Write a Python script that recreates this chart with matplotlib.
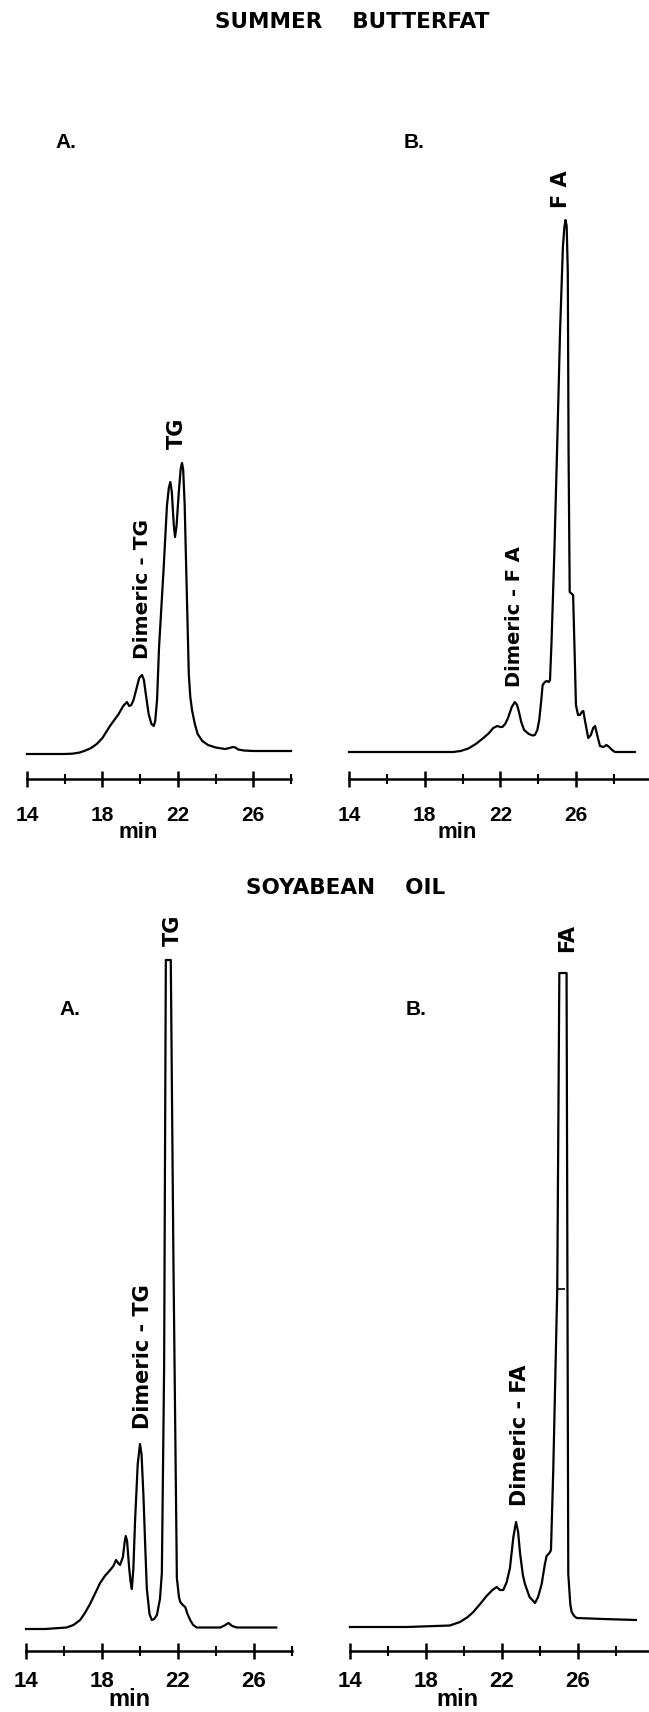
import numpy as np
import matplotlib
matplotlib.use('Agg')
from matplotlib import pyplot as plt
from matplotlib.ticker import MultipleLocator

plt.rcParams['font.family'] = ['Liberation Sans', 'DejaVu Sans']

# 读数: 时间(min) 与 信号高度(像素单位, 基线=0)
# 夏季黄油 A: TG
bf_tg_min = [14.0, 15.0, 16.0, 16.4, 16.8, 17.1, 17.4, 17.7, 18.0, 18.4, 18.86, 19.1,
             19.3, 19.42, 19.53, 19.65, 19.8, 19.95, 20.1, 20.2, 20.3, 20.45, 20.6,
             20.72, 20.8, 20.9, 21.0, 21.25, 21.42, 21.52, 21.6, 21.68, 21.78, 21.85,
             21.93, 22.05, 22.15, 22.22, 22.28, 22.36, 22.45, 22.58, 22.66, 22.75,
             22.9, 23.05, 23.3, 23.6, 24.0, 24.5, 24.75, 24.9, 25.05, 25.2, 25.5,
             26.0, 27.0, 28.0]
bf_tg_sig = [0, 0, 0, 0.3, 1.5, 3.5, 6, 10, 16, 28, 40, 48,
             52, 48, 49, 54, 65, 76, 79, 74, 60, 40, 30,
             28, 33, 55, 106, 187, 248, 266, 272, 262, 230, 217,
             228, 262, 285, 291, 285, 250, 180, 80, 57, 44,
             30, 20, 13, 9, 6.5, 5, 6, 7, 6.5, 4.5, 3.5,
             3, 3, 3]

# 夏季黄油 B: FA
bf_fa_min = [14.0, 17.0, 19.5, 19.9, 20.3, 20.7, 21.1, 21.4, 21.62, 21.83, 22.0, 22.1,
             22.25, 22.4, 22.6, 22.76, 22.88, 22.98, 23.1, 23.25, 23.5, 23.7, 23.82,
             23.95, 24.05, 24.15, 24.23, 24.35, 24.44, 24.55, 24.62, 24.7, 24.85,
             25.0, 25.15, 25.3, 25.38, 25.44, 25.5, 25.56, 25.6, 25.66, 25.84, 25.92,
             25.99, 26.1, 26.2, 26.3, 26.38, 26.48, 26.64, 26.78, 26.9, 27.0, 27.1,
             27.26, 27.45, 27.6, 27.75, 27.9, 28.05, 29.1]
bf_fa_sig = [0, 0, 0, 1, 3.5, 8, 14, 19, 24, 26, 25, 25,
             28, 34, 45, 50, 47, 40, 30, 22, 18, 16.5, 17,
             22, 32, 50, 67, 70, 71, 70, 72, 110, 200,
             307, 420, 505, 525, 532, 526, 480, 300, 160, 157, 100,
             47, 37, 37, 40, 41, 30, 14, 17, 24, 26, 18,
             6, 5, 7, 5, 2, 0, 0]

# 大豆油 A: TG (峰顶超出量程)
soy_tg_min = [14.0, 15.0, 16.14, 16.5, 16.85, 17.1, 17.37, 17.65, 17.9, 18.15, 18.43,
              18.6, 18.74, 18.85, 18.95, 19.1, 19.2, 19.25, 19.32, 19.43, 19.5, 19.57,
              19.65, 19.74, 19.88, 20.0, 20.08, 20.18, 20.28, 20.36, 20.5, 20.62,
              20.75, 20.89, 21.05, 21.15, 21.27, 21.36, 21.62, 21.76, 21.94, 22.05,
              22.12, 22.25, 22.38, 22.5, 22.64, 22.8, 22.99, 24.22, 24.45, 24.66,
              24.85, 25.1, 27.17]
soy_tg_sig = [0, 0, 1.5, 4, 9, 16, 25, 36, 46, 53, 59,
              63, 69, 66, 64, 72, 88, 93, 88, 61, 48, 40,
              60, 108, 165, 185, 175, 134, 80, 40, 15, 9,
              10, 14, 30, 56, 263, 669, 669, 367, 51, 32,
              27, 24, 22, 15, 9, 4, 1.5, 1.5, 3.5, 6,
              3, 1.5, 1.5]

# 大豆油 B: FA (峰顶超出量程)
soy_fa_min = [14.0, 17.0, 19.26, 19.79, 20.2, 20.49, 20.85, 21.19, 21.5, 21.72, 21.9,
              22.07, 22.25, 22.42, 22.6, 22.74, 22.85, 22.95, 23.1, 23.21, 23.45,
              23.74, 23.9, 24.09, 24.25, 24.35, 24.5, 24.58, 24.7, 24.91, 25.02,
              25.4, 25.49, 25.6, 25.67, 25.8, 25.93, 27.33, 29.05]
soy_fa_sig = [0, 0, 1.5, 5, 10, 15, 23, 31, 37, 40, 37,
              37, 45, 59, 90, 105, 95, 74, 52, 43, 30,
              24, 30, 43, 62, 71, 74, 77, 157, 338, 654,
              654, 53, 22, 15, 11, 9, 8, 7]

major_ticks = [14, 18, 22, 26]

W, H = 649, 1712
fig = plt.figure(figsize=(W / 100, H / 100), dpi=100)


def panel(left, axis_y, width, xmax, base, pad, fs):
    ax = fig.add_axes([left / W, (H - axis_y) / H, width / W, 700 / H])
    ax.set_xlim(14, xmax)
    ax.set_ylim(-base, 700 - base)
    for s in ['left', 'right', 'top']:
        ax.spines[s].set_visible(False)
    ax.spines['bottom'].set_linewidth(1.8)
    ax.set_yticks([])
    ax.set_xticks(major_ticks)
    ax.xaxis.set_minor_locator(MultipleLocator(2))
    ax.tick_params(axis='x', which='major', direction='inout', length=11, width=1.8,
                   pad=pad, labelsize=fs)
    ax.tick_params(axis='x', which='minor', direction='inout', length=7, width=1.5)
    for lab in ax.get_xticklabels():
        lab.set_fontweight('bold')
    ax.patch.set_alpha(0)
    return ax


lab_kw = dict(rotation=90, ha='center', va='center', family='DejaVu Sans')

# 上: 夏季黄油
ax1 = panel(27, 779, 264, 28.0, 25, 14, 15)
ax1.plot(bf_tg_min, bf_tg_sig, color='black', lw=1.6, clip_on=False)
ax1.text(20.1, 165, 'Dimeric - TG', fontsize=14.5, fontweight='bold', **lab_kw)
ax1.text(21.95, 321, 'TG', fontsize=15, fontweight='bold', **lab_kw)

ax2 = panel(349, 779, 300, 29.85, 27, 14, 15)
ax2.plot(bf_fa_min, bf_fa_sig, color='black', lw=1.6, clip_on=False)
ax2.text(22.77, 135, 'Dimeric - F A', fontsize=14, fontweight='bold', **lab_kw)
ax2.text(25.2, 563, 'F A', fontsize=15, fontweight='bold', **lab_kw)

# 下: 大豆油
ax3 = panel(26, 1651, 266, 28.0, 22, 9, 16)
ax3.plot(soy_tg_min, soy_tg_sig, color='black', lw=1.6, clip_on=False)
ax3.text(20.16, 272, 'Dimeric - TG', fontsize=15, fontweight='bold', **lab_kw)
ax3.text(21.74, 699, 'TG', fontsize=15, fontweight='bold', **lab_kw)

ax4 = panel(350, 1651, 299, 29.74, 24, 9, 16)
ax4.plot(soy_fa_min, soy_fa_sig, color='black', lw=1.6, clip_on=False)
ax4.plot([25.1], [338], marker='_', markersize=6, mew=1.2, color='black')
ax4.text(22.95, 192, 'Dimeric - FA', fontsize=15, fontweight='bold', **lab_kw)
ax4.text(25.42, 689, 'FA', fontsize=15, fontweight='bold', **lab_kw)


def ftext(x, y, s, **kw):
    fig.text(x / W, 1 - y / H, s, ha='center', va='center', **kw)


ftext(352, 22, 'SUMMER    BUTTERFAT', fontsize=15.5, fontweight='bold', family='DejaVu Sans')
ftext(66, 142, 'A.', fontsize=15, fontweight='bold')
ftext(414, 142, 'B.', fontsize=15, fontweight='bold')
ftext(138, 833, 'min', fontsize=16, fontweight='bold')
ftext(457, 833, 'min', fontsize=16, fontweight='bold')

ftext(346, 888, 'SOYABEAN    OIL', fontsize=15.5, fontweight='bold', family='DejaVu Sans')
ftext(70, 1009, 'A.', fontsize=15, fontweight='bold')
ftext(416, 1009, 'B.', fontsize=15, fontweight='bold')
ftext(129, 1700, 'min', fontsize=17, fontweight='bold')
ftext(457, 1700, 'min', fontsize=17, fontweight='bold')

fig.savefig('out.png', dpi=100, facecolor='white')
